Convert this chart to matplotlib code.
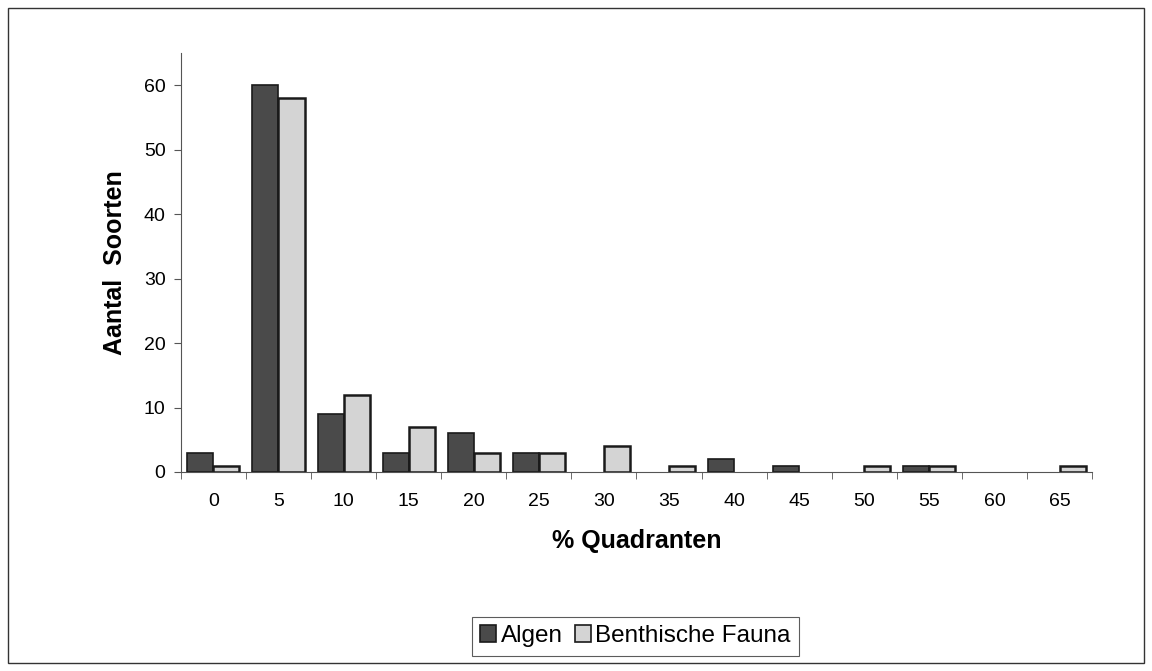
import numpy as np
import matplotlib
matplotlib.use("Agg")
import matplotlib.pyplot as plt
from matplotlib.patches import Rectangle

plt.rcParams['font.family'] = ['Liberation Sans', 'DejaVu Sans']

# data
categories = ['0', '5', '10', '15', '20', '25', '30', '35', '40', '45', '50', '55', '60', '65']
algen = [3, 60, 9, 3, 6, 3, 0, 0, 2, 1, 0, 1, 0, 0]
fauna = [1, 58, 12, 7, 3, 3, 4, 1, 0, 0, 1, 1, 0, 1]

fig = plt.figure(figsize=(11.52, 6.71), dpi=100)
ax = fig.add_axes([0.157, 0.2966, 0.791, 0.6244])

x = np.arange(len(categories))
w = 0.4
# bars with value 0 get no outline, so nothing is drawn for them
lw_a = [1.2 if v else 0 for v in algen]
lw_f = [1.8 if v else 0 for v in fauna]
ax.bar(x - w / 2, algen, w, color='#4a4a4a', edgecolor='#1a1a1a', linewidth=lw_a, label='Algen')
ax.bar(x + w / 2, fauna, w, color='#d4d4d4', edgecolor='#1a1a1a', linewidth=lw_f, label='Benthische Fauna')

ax.set_xlim(-0.5, len(categories) - 0.5)
ax.set_ylim(0, 65)
ax.set_yticks(range(0, 61, 10))
ax.set_xticks(x)
ax.set_xticklabels(categories)
ax.set_xticks(np.arange(-0.5, len(categories)), minor=True)
ax.tick_params(axis='x', which='major', length=0, pad=15, labelsize=14)
ax.tick_params(axis='x', which='minor', length=5, direction='out', color='#555555')
ax.tick_params(axis='y', length=5, direction='out', color='#555555', labelsize=14, pad=6)

for s in ['top', 'right']:
    ax.spines[s].set_visible(False)
ax.spines['left'].set_color('#555555')
ax.spines['bottom'].set_color('#555555')

ax.set_xlabel('% Quadranten', fontsize=18, fontweight='bold', labelpad=14)
ax.set_ylabel('Aantal  Soorten', fontsize=18, fontweight='bold', labelpad=12)

leg = fig.legend(loc='center', bbox_to_anchor=(0.5516, 0.052), ncol=2, fontsize=17.5,
                 frameon=True, fancybox=False, edgecolor='#333333',
                 handlelength=0.65, handleheight=0.65, handletextpad=0.2,
                 columnspacing=0.5, borderpad=0.35)
leg.get_frame().set_linewidth(0.8)
for h in leg.legend_handles:
    h.set_linewidth(1.2)

# outer frame
fig.patches.append(Rectangle((0.007, 0.012), 0.986, 0.976, transform=fig.transFigure,
                             fill=False, edgecolor='#333333', linewidth=1.0))

fig.savefig('out.png', dpi=100)
